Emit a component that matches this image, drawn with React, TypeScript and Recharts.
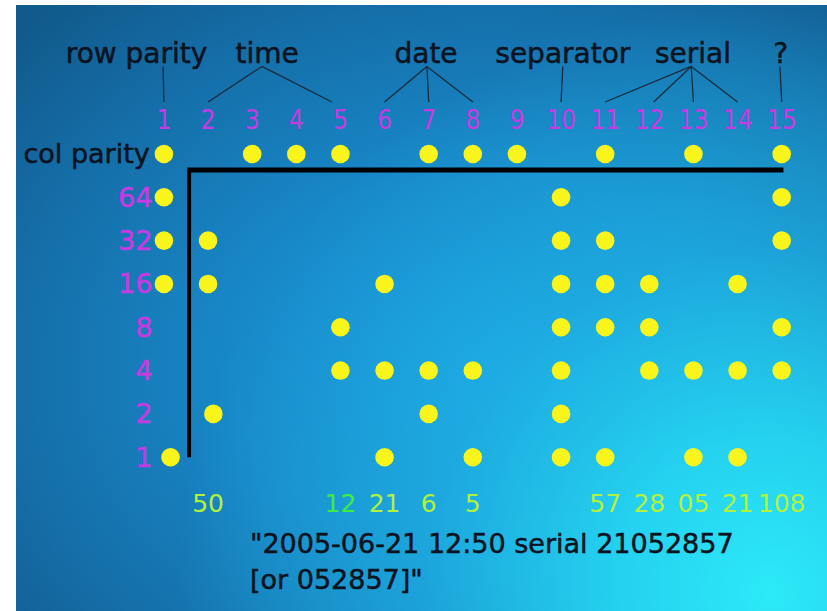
import { ScatterChart, Scatter, XAxis, YAxis, ReferenceLine } from 'recharts';

// columns of the dot grid, 1..15
const COLUMNS = [1, 2, 3, 4, 5, 6, 7, 8, 9, 10, 11, 12, 13, 14, 15];

// row labels, top to bottom (level 8 = col parity ... level 1 = bit 1)
const ROW_LABELS = ['col parity', '64', '32', '16', '8', '4', '2', '1'];
const ROW_LEVELS = [8, 7, 6, 5, 4, 3, 2, 1];

// which columns carry a dot on each row
const DOTS_COL_PARITY = [1, 3, 4, 5, 7, 8, 9, 11, 13, 15];
const DOTS_64 = [1, 10, 15];
const DOTS_32 = [1, 2, 10, 11, 15];
const DOTS_16 = [1, 2, 6, 10, 11, 12, 14];
const DOTS_8 = [5, 10, 11, 12, 15];
const DOTS_4 = [5, 6, 7, 8, 10, 12, 13, 14, 15];
const DOTS_2 = [2.12, 7, 10];
const DOTS_1 = [1.15, 6, 8, 10, 11, 13, 14];

const DOT_ROWS = [DOTS_COL_PARITY, DOTS_64, DOTS_32, DOTS_16, DOTS_8, DOTS_4, DOTS_2, DOTS_1];

// headers over the column numbers and the columns they point at
const HEADERS = ['row parity', 'time', 'date', 'separator', 'serial', '?'];
const HEADER_TARGETS = [[1], [2, 5], [6, 7, 8], [10], [11, 12, 13, 14], [15]];

// decoded values under the grid
const DECODED_COLS = [2, 5, 6, 7, 8, 11, 12, 13, 14, 15];
const DECODED_VALUES = ['50', '12', '21', '6', '5', '57', '28', '05', '21', '108'];

const CAPTION = ['"2005-06-21 12:50 serial 21052857', '[or 052857]"'];

// layout (data units of the chart scales)
const X_DOMAIN = [-2.715, 16.027];
const Y_DOMAIN = [-2.55, 11.554];
const HEADER_X = [0.38, 3.34, 6.94, 10.04, 12.99, 14.98];
const HEADER_APEX = [0.98, 3.22, 6.96, 10.04, 12.95, 14.96];
const LV_HEADER = 10.33;
const LV_LINK_TOP = 10.02;
const LV_LINK_BOTTOM = 9.2;
const LV_COLNUM = 8.78;
const LV_DECODED = -0.06;
const LV_CAPTION = [-1.0, -1.83];

const FONT = "'DejaVu Sans', sans-serif";
const FONT_NARROW = "'DejaVu Sans Condensed', 'DejaVu Sans', sans-serif";
const MAGENTA = '#c63ae2';
const INK = '#0b1220';
const YELLOW = '#f8f41c';

const dotData = DOT_ROWS.flatMap((cols, i) => cols.map((c) => ({ x: c, y: ROW_LEVELS[i] })));
const colNumData = COLUMNS.map((c) => ({ x: c, y: LV_COLNUM, text: String(c) }));
const rowLabelData = ROW_LABELS.map((t, i) => ({ x: i === 0 ? 0.68 : 0.74, y: ROW_LEVELS[i], text: t }));
const headerData = HEADERS.map((t, i) => ({ x: HEADER_X[i], y: LV_HEADER, text: t }));
const decodedData = DECODED_COLS.map((c, i) => ({ x: c, y: LV_DECODED, text: DECODED_VALUES[i] }));
const captionData = CAPTION.map((t, i) => ({ x: 2.95, y: LV_CAPTION[i], text: t }));

const textShape =
  (fill: string | ((p: any) => string), size: number, anchor: string, family = FONT, bold = false) =>
  (props: any) => {
    const color = typeof fill === 'function' ? fill(props.payload) : fill;
    return (
      <text
        x={props.cx}
        y={props.cy}
        fill={color}
        stroke={bold ? color : 'none'}
        strokeWidth={bold ? 0.5 : 0}
        fontSize={size}
        fontFamily={family}
        textAnchor={anchor}
        dominantBaseline="central"
      >
        {props.payload.text}
      </text>
    );
  };

export default function App() {
  return (
    <div style={{ position: 'absolute', left: 0, top: 0, width: 827, height: 611, background: '#fff' }}>
      <div
        style={{
          position: 'absolute',
          left: 16,
          top: 5,
          width: 811,
          height: 606,
          background:
            'radial-gradient(circle at 93% 97%, rgba(44,234,248,1) 0%, rgba(38,218,244,0.9) 16%, rgba(32,190,236,0.55) 36%, rgba(30,175,228,0) 62%),' +
            'radial-gradient(ellipse 78% 82% at 58% 60%, #1a96d8 0%, #1888c8 40%, #156ea8 75%, #115a8c 100%)',
        }}
      />
      <ScatterChart
        width={827}
        height={611}
        margin={{ top: 0, right: 0, bottom: 0, left: 0 }}
        style={{ position: 'absolute', left: 0, top: 0 }}
      >
        <XAxis type="number" dataKey="x" domain={X_DOMAIN} allowDataOverflow hide />
        <YAxis type="number" dataKey="y" domain={Y_DOMAIN} allowDataOverflow hide />

        {/* L-shaped frame */}
        <ReferenceLine
          segment={[{ x: 1.53, y: 7.63 }, { x: 15.04, y: 7.63 }]}
          stroke="#000"
          strokeWidth={5}
          ifOverflow="visible"
        />
        <ReferenceLine
          segment={[{ x: 1.57, y: 7.63 }, { x: 1.57, y: 1.0 }]}
          stroke="#000"
          strokeWidth={4}
          ifOverflow="visible"
        />

        {/* connectors from headers to column numbers */}
        {HEADER_TARGETS.flatMap((targets, i) =>
          targets.map((t) => (
            <ReferenceLine
              key={`link-${i}-${t}`}
              segment={[
                { x: HEADER_APEX[i], y: LV_LINK_TOP },
                { x: t === 5 ? 4.81 : t === 12 ? 12.1 : t, y: LV_LINK_BOTTOM },
              ]}
              stroke="#1b2a3c"
              strokeWidth={1.3}
              ifOverflow="visible"
            />
          ))
        )}

        <Scatter data={dotData} isAnimationActive={false} shape={(p: any) => <circle cx={p.cx} cy={p.cy} r={9.3} fill={YELLOW} />} />
        <Scatter data={headerData} isAnimationActive={false} shape={textShape(INK, 28, 'middle', FONT, true)} />
        <Scatter data={colNumData} isAnimationActive={false} shape={textShape(MAGENTA, 26, 'middle', FONT_NARROW)} />
        <Scatter
          data={rowLabelData}
          isAnimationActive={false}
          shape={textShape((p: any) => (p.text === 'col parity' ? INK : MAGENTA), 27, 'end', FONT, true)}
        />
        <Scatter
          data={decodedData}
          isAnimationActive={false}
          shape={textShape((p: any) => (p.text === '12' && p.x === 5 ? '#3fee3a' : '#b2f23c'), 25, 'middle')}
        />
        <Scatter data={captionData} isAnimationActive={false} shape={textShape(INK, 27, 'start', FONT, true)} />
      </ScatterChart>
    </div>
  );
}
